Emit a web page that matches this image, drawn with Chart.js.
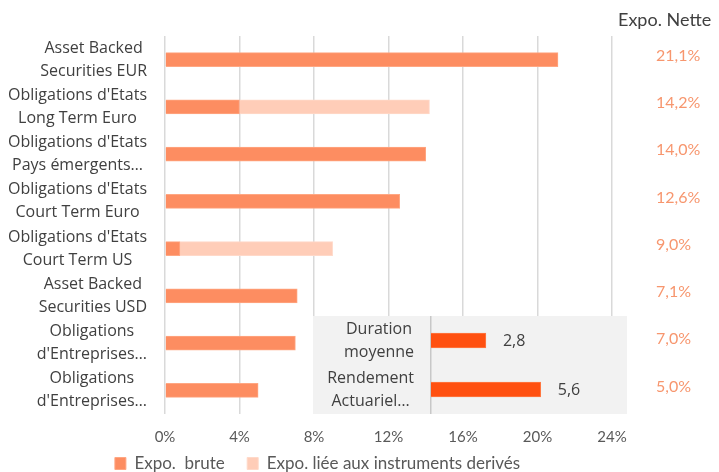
<!DOCTYPE html>
<html>
<head>
<meta charset="utf-8">
<script src="https://cdn.jsdelivr.net/npm/chart.js@4.4.0/dist/chart.umd.min.js"></script>
<style>
    body { margin: 0; background: #fff; }
    #wrap { position: relative; width: 719px; height: 472px; overflow: hidden; }
    #mainChart { position: absolute; left: 0; top: 0; }
    #header { position: absolute; left: 618px; top: 8px; font: 18px Lato, sans-serif; color: #404040; white-space: nowrap; }
    #inset { position: absolute; left: 313px; top: 316px; width: 314px; height: 98px; background: #F2F2F2; }
    #insetChart { position: absolute; left: 0; top: 0; }
</style>
</head>
<body>
<div id="wrap">
    <canvas id="mainChart" width="719" height="472"></canvas>
    <div id="header">Expo. Nette</div>
    <div id="inset"><canvas id="insetChart" width="314" height="98"></canvas></div>
</div>
<script>
// catégories (lignes de libellé)
const categories = [
    ['Asset Backed', 'Securities EUR'],
    ["Obligations d'Etats", 'Long Term Euro'],
    ["Obligations d'Etats", 'Pays émergents…'],
    ["Obligations d'Etats", 'Court Term Euro'],
    ["Obligations d'Etats", 'Court Term US'],
    ['Asset Backed', 'Securities USD'],
    ['Obligations', "d'Entreprises…"],
    ['Obligations', "d'Entreprises…"]
];
const expoBrute = [21.1, 4.0, 14.0, 12.6, 0.8, 7.1, 7.0, 5.0];
const expoDerives = [0, 10.2, 0, 0, 8.2, 0, 0, 0];
const expoNette = [21.1, 14.2, 14.0, 12.6, 9.0, 7.1, 7.0, 5.0];
const xTicks = [0, 4, 8, 12, 16, 20, 24];

const insetCategories = [['Duration', 'moyenne'], ['Rendement', 'Actuariel…']];
const insetValues = [2.8, 5.6];

const fmt = v => v.toFixed(1).replace('.', ',');
const labelFont = '16px "Open Sans"';

// libellés multi-lignes : bloc aligné à droite, lignes centrées entre elles
function drawBlockLabels(chart, labels, rightX, lineGap) {
    const ctx = chart.ctx;
    const yScale = chart.scales.y;
    ctx.save();
    ctx.font = labelFont;
    ctx.fillStyle = '#404040';
    ctx.textAlign = 'center';
    ctx.textBaseline = 'middle';
    labels.forEach((lines, i) => {
        const yc = yScale.getPixelForValue(i);
        const w = Math.max(...lines.map(l => ctx.measureText(l).width));
        const cx = rightX - w / 2;
        lines.forEach((l, j) => ctx.fillText(l, cx, yc + (j - (lines.length - 1) / 2) * lineGap));
    });
    ctx.restore();
}

const mainLabelsPlugin = {
    id: 'mainLabels',
    afterDraw(chart) {
        drawBlockLabels(chart, categories, 147, 23);
        // colonne Expo. Nette
        const ctx = chart.ctx;
        const yScale = chart.scales.y;
        ctx.save();
        ctx.font = '16px Lato';
        ctx.fillStyle = '#F7966E';
        ctx.textAlign = 'left';
        ctx.textBaseline = 'middle';
        expoNette.forEach((v, i) => ctx.fillText(fmt(v) + '%', 656, yScale.getPixelForValue(i) - 4));
        ctx.restore();
    }
};

new Chart(document.getElementById('mainChart'), {
    type: 'bar',
    data: {
        labels: categories.map(c => c.join(' ')),
        datasets: [{
            label: 'Expo.  brute    ',
            data: expoBrute,
            backgroundColor: '#FD8D61',
            borderColor: '#FFA783',
            borderWidth: 1,
            barThickness: 14
        }, {
            label: 'Expo. liée aux instruments derivés',
            data: expoDerives,
            backgroundColor: '#FFCDB8',
            borderColor: '#FFD9C9',
            borderWidth: 1,
            barThickness: 14
        }]
    },
    options: {
        responsive: false,
        animation: false,
        indexAxis: 'y',
        layout: { padding: { top: 36, right: 84, left: 0, bottom: -10 } },
        scales: {
            x: {
                stacked: true,
                min: 0,
                max: 24,
                afterBuildTicks: axis => { axis.ticks = xTicks.map(v => ({ value: v })); },
                ticks: { color: '#595959', font: { family: 'Lato', size: 15 }, padding: 14, callback: v => v + '%' },
                grid: { color: '#D9D9D9', lineWidth: 1.5, drawTicks: false },
                border: { display: false },
                afterFit: axis => { axis.height = 36; }
            },
            y: {
                stacked: true,
                ticks: { display: false },
                grid: { display: false },
                border: { display: false },
                afterFit: axis => { axis.width = 165; }
            },
            // réserve la colonne de droite (Expo. Nette)
            yRight: {
                type: 'category',
                position: 'right',
                ticks: { display: false },
                grid: { display: false },
                border: { display: false },
                afterFit: axis => { axis.width = 23; }
            }
        },
        plugins: {
            legend: {
                position: 'bottom',
                labels: {
                    boxWidth: 11,
                    boxHeight: 12,
                    padding: 5,
                    color: '#595959',
                    font: { family: 'Lato', size: 17 }
                }
            },
            tooltip: { enabled: false }
        }
    },
    plugins: [mainLabelsPlugin]
});

// encart duration / rendement
const insetPlugin = {
    id: 'insetLabels',
    afterDraw(chart) {
        drawBlockLabels(chart, insetCategories, 101, 23);
        const ctx = chart.ctx;
        const meta = chart.getDatasetMeta(0);
        ctx.save();
        ctx.font = labelFont;
        ctx.fillStyle = '#404040';
        ctx.textAlign = 'left';
        ctx.textBaseline = 'middle';
        meta.data.forEach((bar, i) => ctx.fillText(fmt(insetValues[i]), bar.x + 17, bar.y + 1));
        ctx.restore();
    }
};

new Chart(document.getElementById('insetChart'), {
    type: 'bar',
    data: {
        labels: insetCategories.map(c => c.join(' ')),
        datasets: [{
            data: insetValues,
            backgroundColor: '#FF5010',
            borderColor: '#FF7A45',
            borderWidth: 1,
            barThickness: 15
        }]
    },
    options: {
        responsive: false,
        animation: false,
        indexAxis: 'y',
        layout: { padding: 0 },
        scales: {
            x: { display: false, min: 0, max: 10 },
            y: {
                ticks: { display: false },
                grid: { display: false },
                border: { display: true, color: '#C8C8C8', width: 1.5 },
                afterFit: axis => { axis.width = 118; }
            }
        },
        plugins: { legend: { display: false }, tooltip: { enabled: false } }
    },
    plugins: [insetPlugin]
});
</script>
</body>
</html>
